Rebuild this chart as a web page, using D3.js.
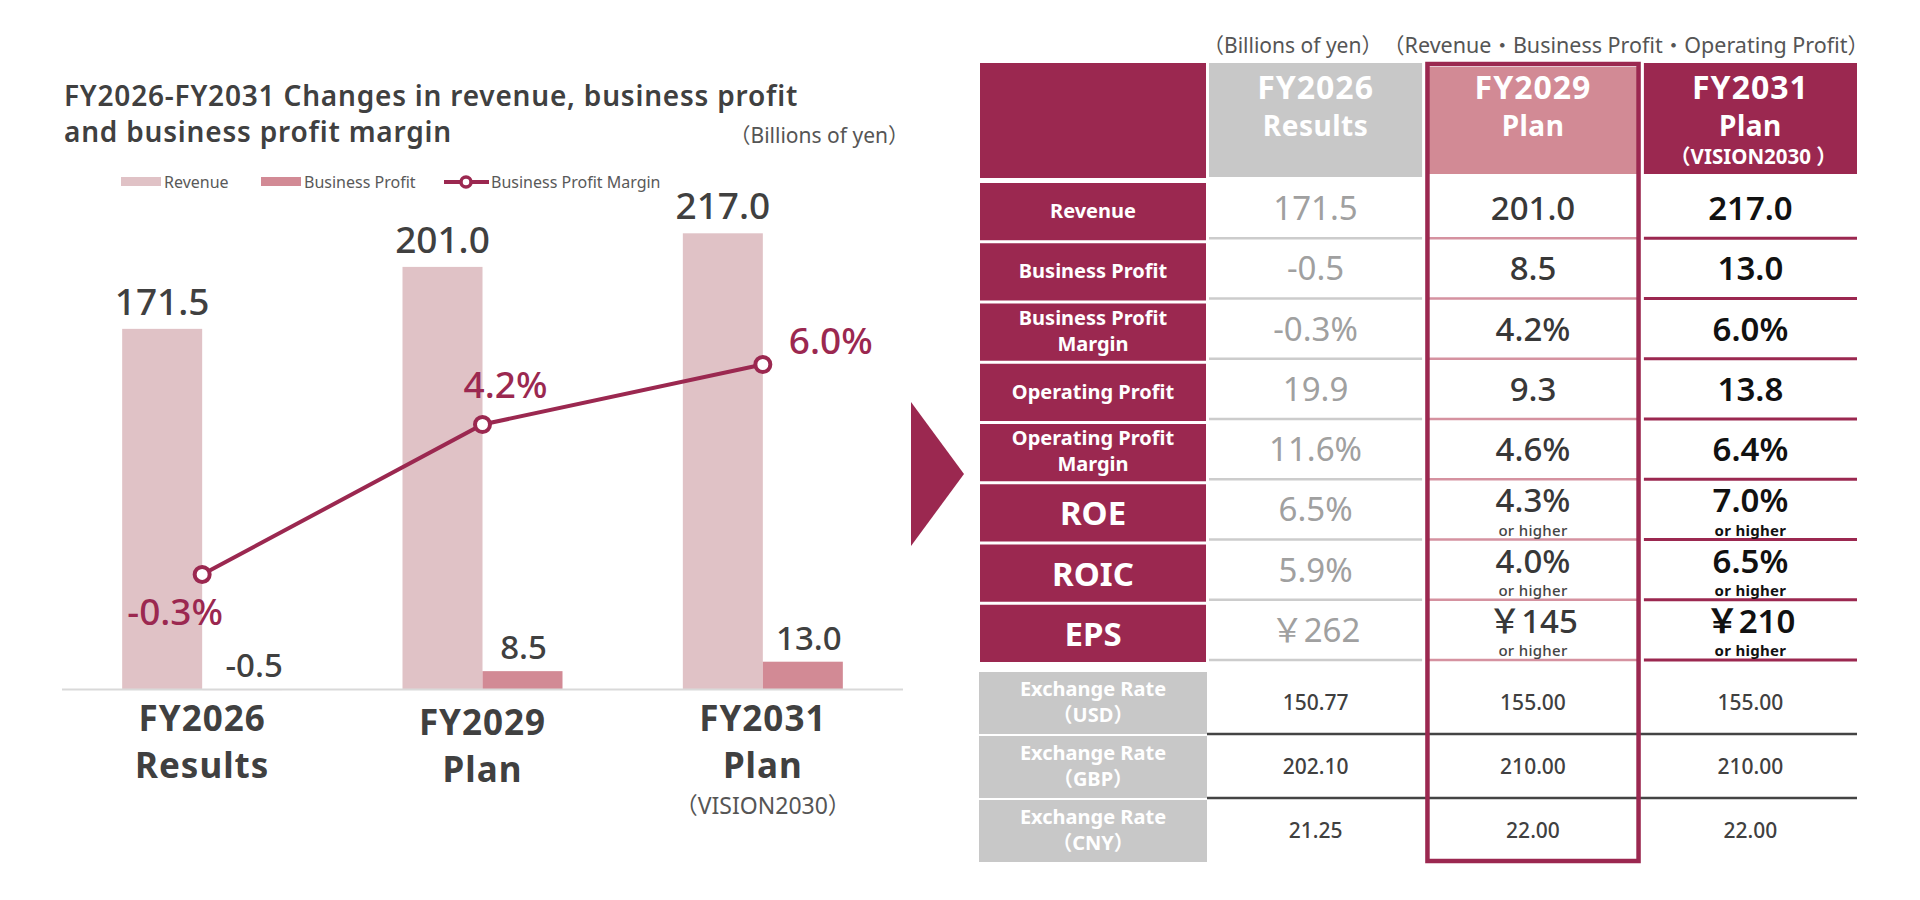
<!DOCTYPE html>
<html>
<head>
<meta charset="utf-8">
<script src="https://cdn.jsdelivr.net/npm/d3@7"></script>
<style>
  html, body { margin: 0; padding: 0; background: #ffffff; }
  svg { display: block; font-family: "Noto Sans", "Noto Sans CJK JP", sans-serif; }
</style>
</head>
<body>
<svg id="chart" width="1920" height="900"></svg>
<script>
// ---------------- DATA ----------------
const categories = ["FY2026 Results", "FY2029 Plan", "FY2031 Plan"];
const catLine1 = ["FY2026", "FY2029", "FY2031"];
const catLine2 = ["Results", "Plan", "Plan"];
const catLine3 = ["", "", "（VISION2030）"];
const revenue = [171.5, 201.0, 217.0];
const businessProfit = [-0.5, 8.5, 13.0];
const businessProfitMargin = [-0.3, 4.2, 6.0];
const seriesNames = ["Revenue", "Business Profit", "Business Profit Margin"];

const tableColumns = ["FY2026", "FY2029", "FY2031"];
const headerLine2 = ["Results", "Plan", "Plan"];
const headerLine3 = ["", "", "（VISION2030 ）"];
const rowLabels = [["Revenue"], ["Business Profit"], ["Business Profit", "Margin"], ["Operating Profit"],
                   ["Operating Profit", "Margin"], ["ROE"], ["ROIC"], ["EPS"]];
const valuesFY2026 = ["171.5", "-0.5", "-0.3%", "19.9", "11.6%", "6.5%", "5.9%", "￥262"];
const valuesFY2029 = ["201.0", "8.5", "4.2%", "9.3", "4.6%", "4.3%", "4.0%", "￥145"];
const valuesFY2031 = ["217.0", "13.0", "6.0%", "13.8", "6.4%", "7.0%", "6.5%", "￥210"];
const qualifierFY2026 = ["", "", "", "", "", "", "", ""];
const qualifierFY2029 = ["", "", "", "", "", "or higher", "or higher", "or higher"];
const qualifierFY2031 = ["", "", "", "", "", "or higher", "or higher", "or higher"];
const fxLabels = [["Exchange Rate", "（USD）"], ["Exchange Rate", "（GBP）"], ["Exchange Rate", "（CNY）"]];
const fxFY2026 = ["150.77", "202.10", "21.25"];
const fxFY2029 = ["155.00", "210.00", "22.00"];
const fxFY2031 = ["155.00", "210.00", "22.00"];

// ---------------- STYLE ----------------
const MAROON = "#9b2850";
const PINK = "#d28a95";
const LIGHTPINK = "#e0c2c6";
const GRAY = "#c8c8c8";
const DARK = "#404040";

const svg = d3.select("#chart");

// ================= LEFT CHART =================
const left = svg.append("g");

const title = left.append("text")
  .attr("font-size", 28).attr("font-weight", 600).attr("letter-spacing", 0.8).attr("fill", DARK);
title.append("tspan").attr("x", 64).attr("y", 105.5).text("FY2026-FY2031 Changes in revenue, business profit");
title.append("tspan").attr("x", 64).attr("y", 141.5).text("and business profit margin");
left.append("text").attr("x", 909).attr("y", 143).attr("text-anchor", "end")
  .attr("font-size", 21).attr("fill", "#555").text("（Billions of yen）");

const x0 = d3.scaleBand().domain(categories).range([62, 903]).padding(0);
const x1 = d3.scaleBand().domain(["Revenue", "Business Profit"])
  .range([x0.bandwidth() / 2 - 80, x0.bandwidth() / 2 + 80]).padding(0);
const y = d3.scaleLinear().domain([0, 250]).range([689, 164]);
const yM = d3.scaleLinear().domain([-1, 10]).range([597.8, 231.2]);

// legend
const legend = left.append("g").attr("font-size", 16).attr("fill", "#595959");
legend.append("rect").attr("x", 121).attr("y", 177).attr("width", 40).attr("height", 9).attr("fill", LIGHTPINK);
legend.append("text").attr("x", 164).attr("y", 188).text(seriesNames[0]);
legend.append("rect").attr("x", 261).attr("y", 177).attr("width", 40).attr("height", 9).attr("fill", PINK);
legend.append("text").attr("x", 304).attr("y", 188).text(seriesNames[1]);
legend.append("line").attr("x1", 444).attr("x2", 489).attr("y1", 182).attr("y2", 182)
  .attr("stroke", MAROON).attr("stroke-width", 4);
legend.append("circle").attr("cx", 466).attr("cy", 182).attr("r", 5)
  .attr("fill", "#fff").attr("stroke", MAROON).attr("stroke-width", 3.5);
legend.append("text").attr("x", 491).attr("y", 188).text(seriesNames[2]);

// bars
const groups = left.selectAll("g.grp").data(categories).join("g")
  .attr("class", "grp").attr("transform", d => `translate(${x0(d)},0)`);

groups.append("rect")
  .attr("x", x1("Revenue")).attr("width", x1.bandwidth())
  .attr("y", (d, i) => y(revenue[i])).attr("height", (d, i) => y(0) - y(revenue[i]))
  .attr("fill", LIGHTPINK);
groups.append("rect")
  .attr("x", x1("Business Profit")).attr("width", x1.bandwidth())
  .attr("y", (d, i) => y(Math.max(0, businessProfit[i])))
  .attr("height", (d, i) => Math.max(1, Math.abs(y(0) - y(businessProfit[i]))))
  .attr("fill", PINK);

// axis baseline
left.append("line").attr("x1", 62).attr("x2", 903).attr("y1", 689.5).attr("y2", 689.5)
  .attr("stroke", "#d9d9d9").attr("stroke-width", 2);

// bar value labels
groups.append("text")
  .attr("x", x1("Revenue") + x1.bandwidth() / 2)
  .attr("y", (d, i) => y(revenue[i]) - 14)
  .attr("text-anchor", "middle").attr("font-size", 37).attr("font-weight", 500).attr("fill", DARK)
  .text((d, i) => revenue[i].toFixed(1));
const bpLabelDx = [12, 1, 6];
groups.append("text")
  .attr("x", (d, i) => x1("Business Profit") + x1.bandwidth() / 2 + bpLabelDx[i])
  .attr("y", (d, i) => y(Math.max(0, businessProfit[i])) - 12)
  .attr("text-anchor", "middle").attr("font-size", 33).attr("font-weight", 500).attr("fill", DARK)
  .text((d, i) => businessProfit[i].toFixed(1));

// margin line
const cx = d => x0(d) + x0.bandwidth() / 2;
const lineGen = d3.line().x((d, i) => cx(categories[i])).y(d => yM(d));
left.append("path").datum(businessProfitMargin)
  .attr("d", lineGen).attr("fill", "none").attr("stroke", MAROON).attr("stroke-width", 4);
left.selectAll("circle.mk").data(businessProfitMargin).join("circle")
  .attr("class", "mk")
  .attr("cx", (d, i) => cx(categories[i])).attr("cy", d => yM(d)).attr("r", 7.5)
  .attr("fill", "#fff").attr("stroke", MAROON).attr("stroke-width", 4);
const mLabelDx = [-27, 23, 68];
const mLabelDy = [51, -26, -11];
left.selectAll("text.ml").data(businessProfitMargin).join("text")
  .attr("class", "ml")
  .attr("x", (d, i) => cx(categories[i]) + mLabelDx[i])
  .attr("y", (d, i) => yM(d) + mLabelDy[i])
  .attr("text-anchor", "middle").attr("font-size", 37).attr("font-weight", 500).attr("fill", MAROON)
  .text(d => d.toFixed(1) + "%");

// category labels
const catDy = [0, 4, 0];
groups.append("text").attr("x", x0.bandwidth() / 2).attr("y", (d, i) => 731 + catDy[i])
  .attr("text-anchor", "middle").attr("font-size", 35).attr("font-weight", "bold")
  .attr("letter-spacing", 1).attr("fill", DARK).text((d, i) => catLine1[i]);
groups.append("text").attr("x", x0.bandwidth() / 2).attr("y", (d, i) => 778 + catDy[i])
  .attr("text-anchor", "middle").attr("font-size", 35).attr("font-weight", "bold")
  .attr("letter-spacing", 1).attr("fill", DARK).text((d, i) => catLine2[i]);
groups.filter((d, i) => catLine3[i]).append("text").attr("x", x0.bandwidth() / 2).attr("y", 814)
  .attr("text-anchor", "middle").attr("font-size", 23).attr("fill", "#555")
  .text(d => catLine3[categories.indexOf(d)]);

// arrow
svg.append("path").attr("d", "M911,402 L964,474 L911,546 Z").attr("fill", MAROON);

// ================= TABLE =================
const tbl = svg.append("g");
const colX = d3.scaleBand().domain(tableColumns).range([1209, 1857]).paddingInner(0.02).paddingOuter(0);
const colCenter = c => colX(c) + colX.bandwidth() / 2;
const rowY = d3.scaleBand().domain(d3.range(rowLabels.length)).range([179, 661]).padding(0);
const fxY = d3.scaleBand().domain(d3.range(fxLabels.length)).range([670, 862]).padding(0);
const LABEL_X0 = 980, LABEL_X1 = 1206;
const labelCx = (LABEL_X0 + LABEL_X1) / 2;

tbl.append("text").attr("x", 1203).attr("y", 53).attr("font-size", 21).attr("fill", "#555").text("（Billions of yen）");
tbl.append("text").attr("x", 1869).attr("y", 53).attr("text-anchor", "end").attr("font-size", 21.5).attr("fill", "#555")
  .text("（Revenue・Business Profit・Operating Profit）");

// header
tbl.append("rect").attr("x", LABEL_X0).attr("y", 63).attr("width", LABEL_X1 - LABEL_X0).attr("height", 115).attr("fill", MAROON);
const headerFill = { FY2026: GRAY, FY2029: PINK, FY2031: MAROON };
const headerTop = { FY2026: 63, FY2029: 67, FY2031: 63 };
const headerBottom = { FY2026: 177, FY2029: 174, FY2031: 174 };
tableColumns.forEach((c, ci) => {
  const x = c === "FY2029" ? colX(c) + 2 : colX(c);
  const w = c === "FY2029" ? colX.bandwidth() - 4 : colX.bandwidth();
  tbl.append("rect").attr("x", x).attr("y", headerTop[c]).attr("width", w)
    .attr("height", headerBottom[c] - headerTop[c]).attr("fill", headerFill[c]);
  tbl.append("text").attr("x", colCenter(c)).attr("y", 99).attr("text-anchor", "middle")
    .attr("font-size", 32).attr("font-weight", "bold").attr("letter-spacing", 1).attr("fill", "#fff").text(c);
  tbl.append("text").attr("x", colCenter(c)).attr("y", 136).attr("text-anchor", "middle")
    .attr("font-size", 28).attr("font-weight", "bold").attr("letter-spacing", 0.5).attr("fill", "#fff").text(headerLine2[ci]);
  if (headerLine3[ci]) tbl.append("text").attr("x", colCenter(c) + 3).attr("y", 164).attr("text-anchor", "middle")
    .attr("font-size", 20.5).attr("font-weight", "bold").attr("fill", "#fff").text(headerLine3[ci]);
});

// metric rows: label cells
const bigLabel = l => l.length === 1 && l[0].length <= 4;
rowLabels.forEach((lab, ri) => {
  const t = rowY(ri);
  tbl.append("rect").attr("x", LABEL_X0).attr("y", t + 4).attr("width", LABEL_X1 - LABEL_X0)
    .attr("height", rowY.bandwidth() - 3).attr("fill", MAROON);
  if (bigLabel(lab)) {
    tbl.append("text").attr("x", labelCx).attr("y", t + 45).attr("text-anchor", "middle")
      .attr("font-size", 33).attr("font-weight", "bold").attr("fill", "#fff").text(lab[0]);
  } else if (lab.length === 1) {
    tbl.append("text").attr("x", labelCx).attr("y", t + 39).attr("text-anchor", "middle")
      .attr("font-size", 20).attr("font-weight", "bold").attr("fill", "#fff").text(lab[0]);
  } else {
    lab.forEach((s, k) => tbl.append("text").attr("x", labelCx).attr("y", t + 25 + k * 26)
      .attr("text-anchor", "middle").attr("font-size", 20).attr("font-weight", "bold").attr("fill", "#fff").text(s));
  }
});

// separators & values
const colValues = { FY2026: valuesFY2026, FY2029: valuesFY2029, FY2031: valuesFY2031 };
const colQual = { FY2026: qualifierFY2026, FY2029: qualifierFY2029, FY2031: qualifierFY2031 };
const sepColor = { FY2026: "#cccccc", FY2029: "#d592a0", FY2031: MAROON };
const valStyle = {
  FY2026: { fill: "#a0a0a0", weight: 400 },
  FY2029: { fill: "#383838", weight: 500 },
  FY2031: { fill: "#111111", weight: 600 }
};
const qualStyle = { FY2026: { fill: "#999", weight: 400 }, FY2029: { fill: "#444", weight: 500 }, FY2031: { fill: "#111", weight: "bold" } };
tableColumns.forEach(c => {
  rowLabels.forEach((lab, ri) => {
    const t = rowY(ri);
    const b = t + rowY.bandwidth();
    tbl.append("line").attr("x1", colX(c)).attr("x2", colX(c) + colX.bandwidth())
      .attr("y1", b - 1).attr("y2", b - 1).attr("stroke", sepColor[c]).attr("stroke-width", c === "FY2031" ? 3 : 2.5);
    const q = colQual[c][ri];
    tbl.append("text").attr("x", colCenter(c)).attr("y", q ? t + 32 : t + 41)
      .attr("text-anchor", "middle").attr("font-size", 33)
      .attr("font-weight", valStyle[c].weight).attr("fill", valStyle[c].fill)
      .text(colValues[c][ri]);
    if (q) tbl.append("text").attr("x", colCenter(c)).attr("y", t + 55.5)
      .attr("text-anchor", "middle").attr("font-size", 15).attr("letter-spacing", 0.3)
      .attr("font-weight", qualStyle[c].weight).attr("fill", qualStyle[c].fill).text(q);
  });
});

// exchange rows
const fxValues = { FY2026: fxFY2026, FY2029: fxFY2029, FY2031: fxFY2031 };
fxLabels.forEach((lab, ri) => {
  const t = fxY(ri);
  tbl.append("rect").attr("x", 979).attr("y", t + 2).attr("width", 228).attr("height", fxY.bandwidth() - 2).attr("fill", GRAY);
  lab.forEach((s, k) => tbl.append("text").attr("x", labelCx).attr("y", t + 25.5 + k * 26)
    .attr("text-anchor", "middle").attr("font-size", 20).attr("font-weight", "bold").attr("fill", "#fff").text(s));
  tableColumns.forEach(c => {
    tbl.append("text").attr("x", colCenter(c)).attr("y", t + 40).attr("text-anchor", "middle")
      .attr("font-size", 21).attr("font-weight", 500).attr("fill", DARK).text(fxValues[c][ri]);
  });
  if (ri < fxLabels.length - 1) {
    tbl.append("line").attr("x1", 1207).attr("x2", 1857).attr("y1", t + fxY.bandwidth()).attr("y2", t + fxY.bandwidth())
      .attr("stroke", "#444").attr("stroke-width", 2.5);
  }
});

// FY2029 highlight box
tbl.append("rect").attr("x", colX("FY2029") + 1).attr("y", 64).attr("width", colX.bandwidth() - 2).attr("height", 797)
  .attr("fill", "none").attr("stroke", MAROON).attr("stroke-width", 4.5);
</script>
</body>
</html>
